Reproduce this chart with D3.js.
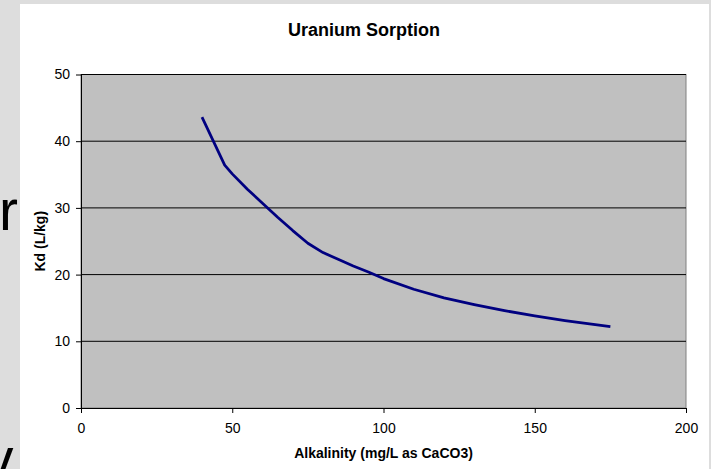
<!DOCTYPE html>
<html>
<head>
<meta charset="utf-8">
<script src="https://cdn.jsdelivr.net/npm/d3@7"></script>
<style>
    html, body { margin: 0; padding: 0; background: #dddddd; }
    svg { display: block; font-family: Arial, "Liberation Sans", sans-serif; }
</style>
</head>
<body>
<div id="chart"></div>
<script>
// Chart values
const alkalinity = [40, 45, 47.5, 50, 55, 60, 65, 70, 75, 80, 85, 90, 95, 100, 110, 120, 130, 140, 150, 160, 170, 175];
const kd = [43.6, 38.8, 36.4, 35.1, 32.8, 30.7, 28.6, 26.6, 24.7, 23.3, 22.3, 21.3, 20.4, 19.4, 17.8, 16.5, 15.5, 14.6, 13.8, 13.1, 12.5, 12.2];
const xTicks = [0, 50, 100, 150, 200];
const yTicks = [0, 10, 20, 30, 40, 50];
const chartTitle = 'Uranium Sorption';
const xTitle = 'Alkalinity (mg/L as CaCO3)';
const yTitle = 'Kd (L/kg)';

document.addEventListener('DOMContentLoaded', function() {
    drawChart();
});

function drawChart() {
    const width = 711;
    const height = 469;
    const plot = { left: 81, right: 686, top: 74.5, bottom: 408 };

    const svg = d3.select('#chart')
        .append('svg')
        .attr('width', width)
        .attr('height', height);

    // slide text peeking out behind the chart
    svg.append('text')
        .attr('x', -1)
        .attr('y', 230)
        .style('font-size', '57px')
        .attr('fill', '#000')
        .text('r');
    svg.append('text')
        .attr('x', -15)
        .attr('y', 478)
        .style('font-size', '57px')
        .attr('fill', '#000')
        .text('v');

    // chart area
    svg.append('rect')
        .attr('x', 20)
        .attr('y', 4)
        .attr('width', 689)
        .attr('height', height - 4)
        .attr('fill', 'white');

    const x = d3.scaleLinear()
        .domain([0, 200])
        .range([plot.left, plot.right]);

    const y = d3.scaleLinear()
        .domain([0, 50])
        .range([plot.bottom, plot.top]);

    // plot area
    svg.append('rect')
        .attr('x', plot.left)
        .attr('y', plot.top)
        .attr('width', plot.right - plot.left)
        .attr('height', plot.bottom - plot.top)
        .attr('fill', '#c0c0c0')
        .attr('stroke', '#808080')
        .attr('stroke-width', 1);

    // gridlines
    svg.selectAll('.grid')
        .data(yTicks.filter(d => d > 0))
        .enter()
        .append('line')
        .attr('class', 'grid')
        .attr('x1', plot.left)
        .attr('x2', plot.right)
        .attr('y1', d => y(d))
        .attr('y2', d => y(d))
        .attr('stroke', '#000')
        .attr('stroke-width', 1);

    // axes
    const xAxis = svg.append('g')
        .attr('transform', `translate(0,${plot.bottom})`)
        .call(d3.axisBottom(x).tickValues(xTicks).tickSize(5).tickSizeOuter(0).tickPadding(10));

    const yAxis = svg.append('g')
        .attr('transform', `translate(${plot.left},0)`)
        .call(d3.axisLeft(y).tickValues(yTicks).tickSize(5).tickSizeOuter(0).tickPadding(6));

    [xAxis, yAxis].forEach(g => {
        g.attr('font-family', null).attr('font-size', null);
        g.selectAll('text').style('font-size', '14px').attr('fill', '#000');
        g.selectAll('line').attr('stroke', '#000');
        g.select('.domain').attr('stroke', '#000');
    });

    // the series
    const line = d3.line()
        .x((d, i) => x(alkalinity[i]))
        .y(d => y(d));

    svg.append('path')
        .datum(kd)
        .attr('fill', 'none')
        .attr('stroke', '#000080')
        .attr('stroke-width', 2.75)
        .attr('stroke-linejoin', 'round')
        .attr('d', line);

    // titles
    svg.append('text')
        .attr('x', 364)
        .attr('y', 36)
        .attr('text-anchor', 'middle')
        .style('font-size', '18px')
        .style('font-weight', 'bold')
        .text(chartTitle);

    svg.append('text')
        .attr('x', (plot.left + plot.right) / 2)
        .attr('y', 458)
        .attr('text-anchor', 'middle')
        .style('font-size', '14px')
        .style('font-weight', 'bold')
        .text(xTitle);

    svg.append('text')
        .attr('transform', `translate(45,${(plot.top + plot.bottom) / 2}) rotate(-90)`)
        .attr('text-anchor', 'middle')
        .style('font-size', '14px')
        .style('font-weight', 'bold')
        .text(yTitle);
}
</script>
</body>
</html>
